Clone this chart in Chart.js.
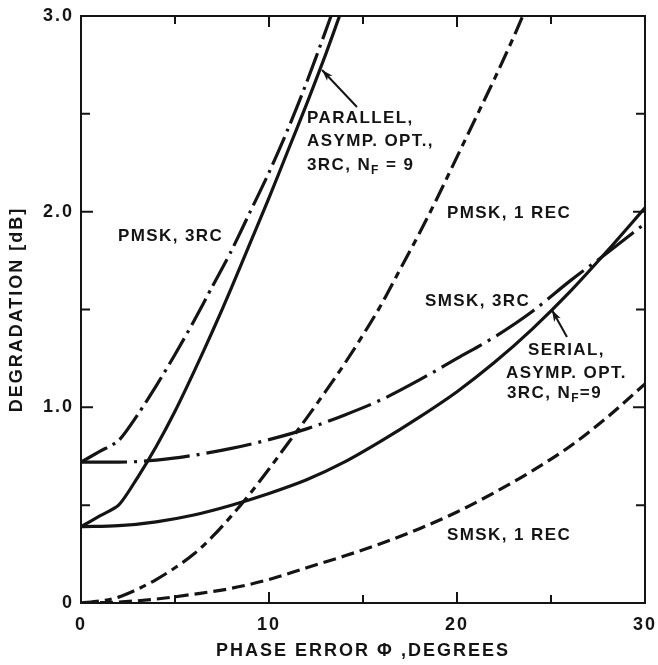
<!DOCTYPE html>
<html><head><meta charset="utf-8">
<script src="https://cdn.jsdelivr.net/npm/chart.js@4"></script>
<style>html,body{margin:0;padding:0;background:#fff;}</style>
</head><body>
<canvas id="c" width="658" height="665"></canvas>
<script>
// ---- data ----
const xTicks = [0, 10, 20, 30];
const xTickLabels = ['0', '10', '20', '30'];
const xMinorTicks = [5, 15, 25];
const yTicks = [0, 1, 2, 3];
const yTickLabels = ['0', '1.0', '2.0', '3.0'];
const yMinorTicks = [0.5, 1.5, 2.5];

const pmsk3rcX = [0, 1, 2, 3, 4, 5, 6, 7, 8, 9, 10, 11, 12, 13, 13.3];
const pmsk3rcY = [0.72, 0.775, 0.83, 0.96, 1.11, 1.27, 1.44, 1.62, 1.80, 2.0, 2.2, 2.42, 2.66, 2.92, 3.0];

const parallelX = [0, 1, 2, 3, 4, 5, 6, 7, 8, 9, 10, 11, 12, 13, 13.75];
const parallelY = [0.39, 0.445, 0.50, 0.64, 0.80, 0.98, 1.18, 1.39, 1.61, 1.84, 2.07, 2.31, 2.55, 2.80, 3.0];

const pmsk1recX = [0, 1, 2, 3, 4, 5, 6, 7, 8, 9, 10, 11, 12, 13, 14, 15, 16, 17, 18, 19, 20, 21, 22, 23, 23.5];
const pmsk1recY = [0, 0.01, 0.03, 0.07, 0.12, 0.18, 0.25, 0.34, 0.445, 0.56, 0.685, 0.815, 0.945, 1.08, 1.22, 1.37, 1.53, 1.71, 1.89, 2.08, 2.28, 2.48, 2.68, 2.89, 3.0];

const smsk3rcX = [0, 2, 4, 6, 8, 10, 12, 14, 16, 18, 20, 22, 24, 26, 28, 30];
const smsk3rcY = [0.72, 0.72, 0.73, 0.755, 0.79, 0.835, 0.89, 0.96, 1.04, 1.14, 1.25, 1.36, 1.49, 1.645, 1.79, 1.94];

const serialX = [0, 2, 4, 6, 8, 10, 12, 14, 16, 18, 20, 22, 24, 26, 28, 30];
const serialY = [0.39, 0.395, 0.415, 0.45, 0.50, 0.56, 0.63, 0.72, 0.83, 0.95, 1.08, 1.23, 1.40, 1.59, 1.80, 2.02];

const smsk1recX = [0, 2, 4, 6, 8, 10, 12, 14, 16, 18, 20, 22, 24, 26, 28, 30];
const smsk1recY = [0, 0.005, 0.02, 0.045, 0.075, 0.12, 0.18, 0.24, 0.305, 0.38, 0.465, 0.565, 0.675, 0.80, 0.95, 1.12];

// annotation texts (data coordinates of text anchor)
const annotations = [
  {lines: ['PMSK, 3RC'], x: 1.97, y: 1.876},
  {lines: ['PARALLEL,', 'ASYMP. OPT.,', '3RC, N|F| = 9'], x: 12.02, y: 2.479, dy: 0.12},
  {lines: ['PMSK, 1 REC'], x: 19.47, y: 1.993},
  {lines: ['SMSK, 3RC'], x: 18.30, y: 1.543},
  {lines: ['SERIAL,'], x: 23.78, y: 1.293},
  {lines: ['ASYMP. OPT.'], x: 22.61, y: 1.175},
  {lines: ['3RC, N|F|=9'], x: 22.66, y: 1.073},
  {lines: ['SMSK, 1 REC'], x: 19.47, y: 0.348}
];
const arrows = [
  {x1: 14.68, y1: 2.535, x2: 12.82, y2: 2.724},
  {x1: 25.85, y1: 1.359, x2: 25.05, y2: 1.497}
];

const zip = (xs, ys) => xs.map((x, i) => ({x: x, y: ys[i]}));
const INK = '#141414';
const FONT = '"Liberation Sans", Arial, sans-serif';

function ds(xs, ys, dash, smooth) {
  const d = {data: zip(xs, ys), borderColor: INK, borderWidth: 3.2, borderDash: dash,
          pointRadius: 0, fill: false, borderCapStyle: 'butt', borderJoinStyle: 'round'};
  if (smooth) d.cubicInterpolationMode = 'monotone'; else d.tension = 0.25;
  return d;
}

const framePlugin = {
  id: 'frame',
  beforeDraw(chart) {
    chart.ctx.letterSpacing = '2px';
  },
  afterDatasetsDraw(chart) {
    const {ctx, chartArea: a, scales: {x, y}} = chart;
    ctx.save();
    ctx.strokeStyle = INK;
    ctx.lineWidth = 2;
    ctx.strokeRect(a.left, a.top, a.right - a.left, a.bottom - a.top);
    ctx.beginPath();
    const tx = (v, len) => {
      const p = x.getPixelForValue(v);
      ctx.moveTo(p, a.bottom); ctx.lineTo(p, a.bottom - len);
      ctx.moveTo(p, a.top); ctx.lineTo(p, a.top + len);
    };
    const ty = (v, len) => {
      const p = y.getPixelForValue(v);
      ctx.moveTo(a.left, p); ctx.lineTo(a.left + len, p);
      ctx.moveTo(a.right, p); ctx.lineTo(a.right - len, p);
    };
    xTicks.forEach(v => tx(v, 11));
    xMinorTicks.forEach(v => tx(v, 8));
    yTicks.forEach(v => ty(v, 12));
    yMinorTicks.forEach(v => ty(v, 9));
    ctx.stroke();

    // annotations
    ctx.fillStyle = INK;
    ctx.textBaseline = 'middle';
    ctx.textAlign = 'left';
    ctx.letterSpacing = '1.4px';
    annotations.forEach(an => {
      an.lines.forEach((line, i) => {
        let px = x.getPixelForValue(an.x);
        const py = y.getPixelForValue(an.y - i * (an.dy || 0));
        const parts = line.split('|');
        parts.forEach((part, k) => {
          if (k % 2 === 1) {
            ctx.font = 'bold 12px ' + FONT;
            ctx.fillText(part, px, py + 6);
          } else {
            ctx.font = 'bold 17px ' + FONT;
            ctx.fillText(part, px, py);
          }
          px += ctx.measureText(part).width;
        });
      });
    });
    // arrows
    ctx.lineWidth = 2;
    arrows.forEach(ar => {
      const x1 = x.getPixelForValue(ar.x1), y1 = y.getPixelForValue(ar.y1);
      const x2 = x.getPixelForValue(ar.x2), y2 = y.getPixelForValue(ar.y2);
      ctx.beginPath(); ctx.moveTo(x1, y1); ctx.lineTo(x2, y2); ctx.stroke();
      const ang = Math.atan2(y2 - y1, x2 - x1), L = 12, W = 0.32;
      ctx.beginPath();
      ctx.moveTo(x2, y2);
      ctx.lineTo(x2 - L * Math.cos(ang - W), y2 - L * Math.sin(ang - W));
      ctx.lineTo(x2 - L * 0.7 * Math.cos(ang), y2 - L * 0.7 * Math.sin(ang));
      ctx.lineTo(x2 - L * Math.cos(ang + W), y2 - L * Math.sin(ang + W));
      ctx.closePath(); ctx.fill();
    });
    ctx.restore();
    ctx.letterSpacing = '2px';
  }
};

new Chart(document.getElementById('c'), {
  type: 'line',
  data: {
    datasets: [
      ds(pmsk3rcX, pmsk3rcY, [30, 6, 3, 6], false),
      ds(parallelX, parallelY, [], false),
      ds(pmsk1recX, pmsk1recY, [18, 6, 7, 6], true),
      ds(smsk3rcX, smsk3rcY, [46, 7, 3, 7], true),
      ds(serialX, serialY, [], true),
      ds(smsk1recX, smsk1recY, [13, 6], true)
    ]
  },
  options: {
    responsive: false,
    animation: false,
    devicePixelRatio: 1,
    layout: {padding: {top: 16, right: 13, left: 0, bottom: 0}},
    plugins: {legend: {display: false}, tooltip: {enabled: false}},
    scales: {
      x: {
        type: 'linear', min: 0, max: 30,
        grid: {display: false, drawTicks: false}, border: {display: false},
        afterBuildTicks: s => { s.ticks = xTicks.map(v => ({value: v})); },
        afterFit: s => { s.height = 62; s.paddingLeft = 0; s.paddingRight = 0; },
        ticks: {
          color: INK, padding: 11, maxRotation: 0, autoSkip: false,
          font: {family: FONT, size: 18, weight: 'bold'},
          callback: v => xTickLabels[xTicks.indexOf(v)]
        },
        title: {display: true, text: 'PHASE ERROR Φ ,DEGREES', color: INK,
                font: {family: FONT, size: 18, weight: 'bold'}, padding: {top: 0, bottom: 3}}
      },
      y: {
        type: 'linear', min: 0, max: 3,
        grid: {display: false, drawTicks: false}, border: {display: false},
        afterBuildTicks: s => { s.ticks = yTicks.map(v => ({value: v})); },
        afterFit: s => { s.width = 81; s.paddingTop = 0; s.paddingBottom = 0; },
        ticks: {
          color: INK, padding: 7, autoSkip: false,
          font: {family: FONT, size: 18, weight: 'bold'},
          callback: v => yTickLabels[yTicks.indexOf(v)]
        },
        title: {display: true, text: 'DEGRADATION [dB]', color: INK,
                font: {family: FONT, size: 18, weight: 'bold'}, padding: {top: 6, bottom: 0}}
      }
    }
  },
  plugins: [framePlugin]
});
</script>
</body></html>
